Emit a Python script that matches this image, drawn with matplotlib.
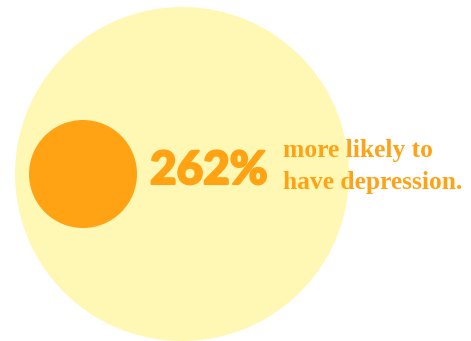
import matplotlib
matplotlib.use("Agg")
import matplotlib.pyplot as plt
from matplotlib.patches import Circle
import matplotlib.patheffects as pe

# data
labels = ["baseline", "with condition"]
radii = [54, 167]          # circle radii (px units)
centers_x = [83, 182]
center_y = 174
big_value = "262%"
caption = ["more likely to", "have depression."]

orange = "#FFA214"
pale = "#FFF8B4"

fig = plt.figure(figsize=(4.71, 3.41), dpi=100)
ax = fig.add_axes([0, 0, 1, 1])
ax.set_xlim(0, 471)
ax.set_ylim(341, 0)
ax.set_aspect("equal")
ax.axis("off")

ax.add_patch(Circle((centers_x[1], center_y), radii[1], color=pale, lw=0))
ax.add_patch(Circle((centers_x[0], center_y), radii[0], color=orange, lw=0))

ax.text(150, 184, big_value, fontsize=33, fontfamily=["Lato", "DejaVu Sans"],
        fontweight="black", color=orange, ha="left", va="baseline",
        path_effects=[pe.withStroke(linewidth=1.5, foreground=orange)])
ax.text(283, 157, caption[0], fontsize=18.4, fontfamily=["Liberation Serif"],
        fontweight="bold", color=orange, ha="left", va="baseline")
ax.text(283, 189, caption[1], fontsize=18.4, fontfamily=["Liberation Serif"],
        fontweight="bold", color=orange, ha="left", va="baseline")

fig.savefig("out.png", dpi=100)
